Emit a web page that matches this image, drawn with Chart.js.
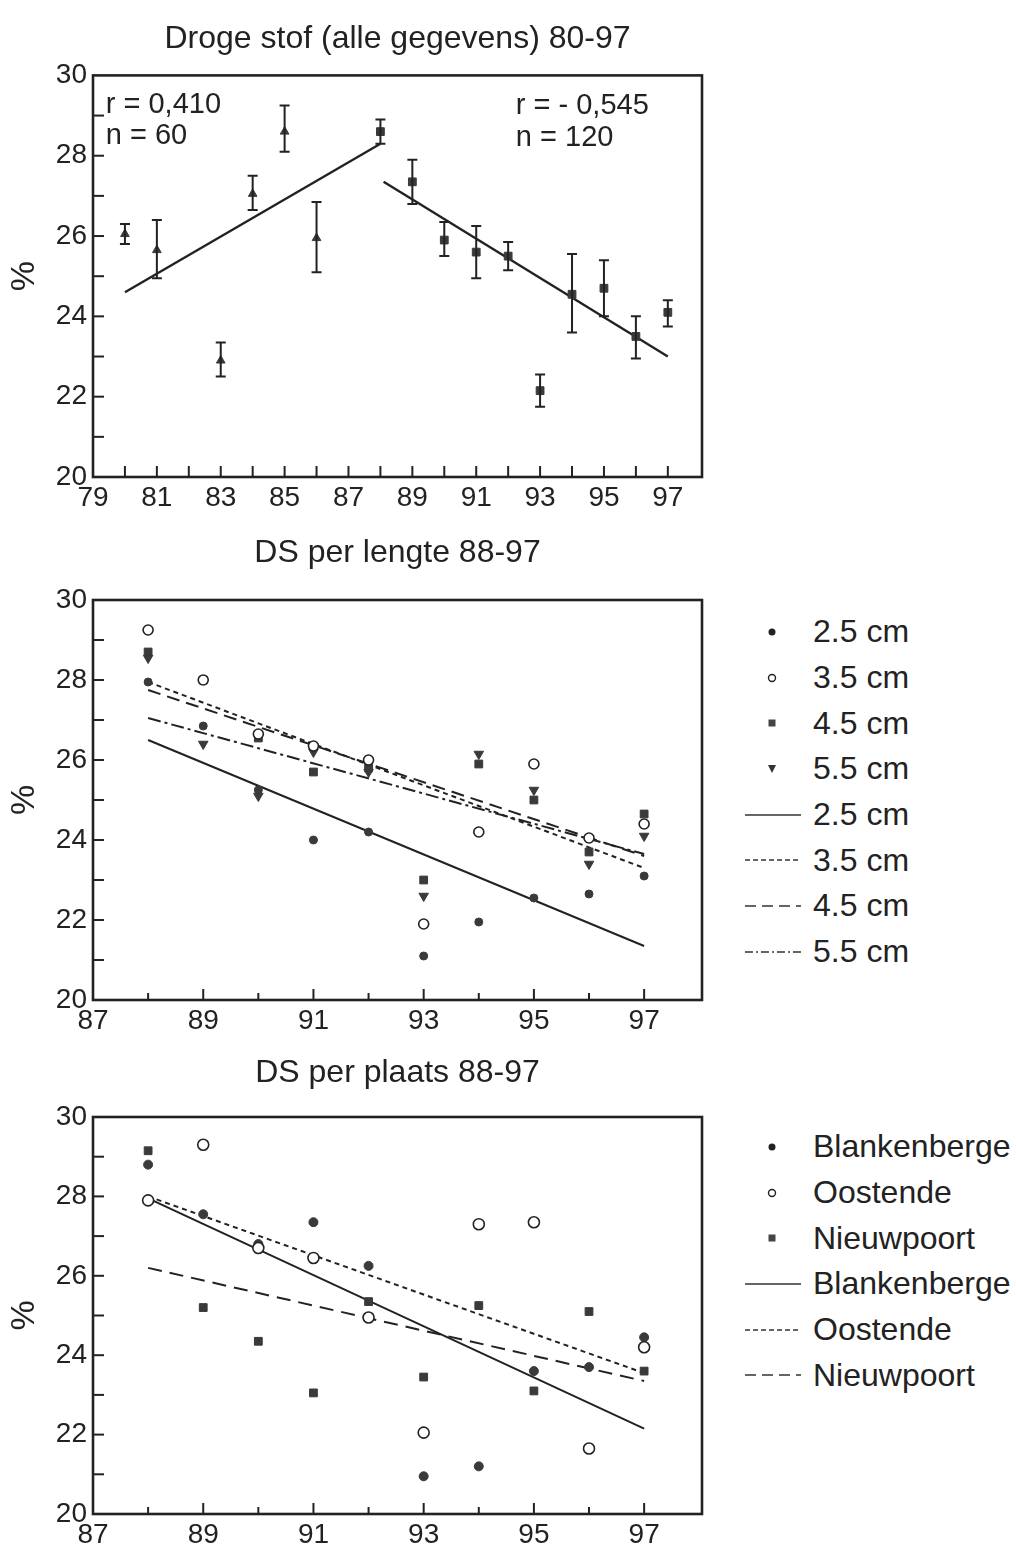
<!DOCTYPE html>
<html>
<head>
<meta charset="utf-8">
<script src="https://cdn.jsdelivr.net/npm/chart.js@4.4.1/dist/chart.umd.min.js"></script>
<style>
  body { margin: 0; background: #fff; width: 1016px; height: 1562px; position: relative; overflow: hidden;
         font-family: "Liberation Sans", Arial, sans-serif; color: #222; }
  canvas { position: absolute; left: 0; }
  .legend { position: absolute; left: 745px; font-size: 32px; }
  .legend div { display: flex; align-items: center; height: 45.7px; white-space: nowrap; }
  .legend svg { margin-right: 12px; flex: none; }
</style>
</head>
<body>
<canvas id="c1" width="720" height="525" style="top:0"></canvas>
<canvas id="c2" width="720" height="528" style="top:520px"></canvas>
<canvas id="c3" width="720" height="522" style="top:1040px"></canvas>
<div class="legend" id="lg2" style="top:609px"></div>
<div class="legend" id="lg3" style="top:1124px"></div>
<script>
// --- chart 1: droge stof 80-97, gemiddelde met foutbalken
const triYears = [80, 81, 83, 84, 85, 86];
const triVals  = [26.05, 25.65, 22.9, 27.05, 28.6, 25.95];
const triLo    = [25.8, 24.95, 22.5, 26.65, 28.1, 25.1];
const triHi    = [26.3, 26.4, 23.35, 27.5, 29.25, 26.85];
const sqYears  = [88, 89, 90, 91, 92, 93, 94, 95, 96, 97];
const sqVals   = [28.6, 27.35, 25.9, 25.6, 25.5, 22.15, 24.55, 24.7, 23.5, 24.1];
const sqLo     = [28.3, 26.8, 25.5, 24.95, 25.15, 21.75, 23.6, 24.0, 22.95, 23.75];
const sqHi     = [28.9, 27.9, 26.35, 26.25, 25.85, 22.55, 25.55, 25.4, 24.0, 24.4];
const fitLeftX  = [80, 88];
const fitLeftY  = [24.6, 28.3];
const fitRightX = [88.1, 97];
const fitRightY = [27.35, 23.0];

// --- chart 2: per lengte 88-97
const years = [88, 89, 90, 91, 92, 93, 94, 95, 96, 97];
const lengthNames = ['2.5 cm', '3.5 cm', '4.5 cm', '5.5 cm'];
const len25 = [27.95, 26.85, 25.25, 24.0, 24.2, 21.1, 21.95, 22.55, 22.65, 23.1];
const len35 = [29.25, 28.0, 26.65, 26.35, 26.0, 21.9, 24.2, 25.9, 24.05, 24.4];
const len45 = [28.7, 28.0, 26.55, 25.7, 25.8, 23.0, 25.9, 25.0, 23.7, 24.65];
const len55 = [28.55, 26.4, 25.1, 26.2, 25.7, 22.6, 26.15, 25.25, 23.4, 24.1];
const fitX  = [88, 97];
const fit25 = [26.5, 21.35];
const fit35 = [27.95, 23.3];
const fit45 = [27.75, 23.6];
const fit55 = [27.05, 23.65];

// --- chart 3: per plaats 88-97
const placeNames = ['Blankenberge', 'Oostende', 'Nieuwpoort'];
const plBlank = [28.8, 27.55, 26.8, 27.35, 26.25, 20.95, 21.2, 23.6, 23.7, 24.45];
const plOost  = [27.9, 29.3, 26.7, 26.45, 24.95, 22.05, 27.3, 27.35, 21.65, 24.2];
const plNieuw = [29.15, 25.2, 24.35, 23.05, 25.35, 23.45, 25.25, 23.1, 25.1, 23.6];
const fitBlank = [27.95, 22.15];
const fitOost  = [28.0, 23.55];
const fitNieuw = [26.2, 23.35];

const INK = '#222';
const FILL = '#3a3a3a';
Chart.defaults.font.family = '"Liberation Sans", Arial, sans-serif';
Chart.defaults.color = INK;

const pts = (xs, ys) => xs.map((x, i) => ({ x: x, y: ys[i] }));

// kader + naar binnen gerichte streepjes
const frame = {
  id: 'frame',
  afterDraw(chart, args, opts) {
    const { ctx, chartArea: a, scales: { x, y } } = chart;
    ctx.save();
    ctx.strokeStyle = INK;
    ctx.lineWidth = 2;
    x.ticks.forEach(t => {
      const v = t.value;
      if (!Number.isInteger(v) || v <= x.min || v >= x.max) return;
      const len = (opts.xMinor && v % 2 === 0) ? opts.xMinor : 11;
      const px = x.getPixelForValue(v);
      ctx.beginPath(); ctx.moveTo(px, a.bottom); ctx.lineTo(px, a.bottom - len); ctx.stroke();
    });
    y.ticks.forEach(t => {
      const v = t.value;
      if (!Number.isInteger(v) || v <= y.min || v >= y.max) return;
      const py = y.getPixelForValue(v);
      ctx.beginPath(); ctx.moveTo(a.left, py); ctx.lineTo(a.left + 11, py); ctx.stroke();
    });
    ctx.lineWidth = 2.6;
    ctx.strokeRect(a.left, a.top, a.width, a.height);
    ctx.restore();
  }
};

const errorBars = {
  id: 'errorBars',
  afterDatasetsDraw(chart) {
    const { ctx, scales: { y } } = chart;
    ctx.save();
    ctx.strokeStyle = INK;
    ctx.lineWidth = 2;
    chart.data.datasets.forEach((ds, i) => {
      if (!ds.errLo) return;
      chart.getDatasetMeta(i).data.forEach((p, j) => {
        const lo = y.getPixelForValue(ds.errLo[j]);
        const hi = y.getPixelForValue(ds.errHi[j]);
        ctx.beginPath();
        ctx.moveTo(p.x, lo); ctx.lineTo(p.x, hi);
        ctx.moveTo(p.x - 5, lo); ctx.lineTo(p.x + 5, lo);
        ctx.moveTo(p.x - 5, hi); ctx.lineTo(p.x + 5, hi);
        ctx.stroke();
      });
    });
    ctx.restore();
  }
};

const notes = {
  id: 'notes',
  afterDraw(chart, args, opts) {
    if (!opts.items) return;
    const { ctx, scales: { x, y } } = chart;
    ctx.save();
    ctx.font = '29px "Liberation Sans", Arial, sans-serif';
    ctx.fillStyle = INK;
    ctx.textBaseline = 'middle';
    opts.items.forEach(it => ctx.fillText(it.text, x.getPixelForValue(it.x), y.getPixelForValue(it.y)));
    ctx.restore();
  }
};

function options(title, titlePad, xMin, xMax, extra) {
  return {
    responsive: false,
    animation: false,
    layout: { padding: { right: 18 } },
    plugins: Object.assign({
      legend: { display: false },
      tooltip: { enabled: false },
      title: { display: true, text: title, fullSize: false, color: INK,
               font: { size: 32, weight: 'normal' }, padding: titlePad }
    }, extra),
    scales: {
      x: {
        type: 'linear', min: xMin, max: xMax,
        grid: { display: false, drawTicks: false }, border: { display: false },
        ticks: { stepSize: 1, autoSkip: false, maxRotation: 0, padding: 4, font: { size: 28 },
                 callback: v => (Number.isInteger(v) && v % 2 !== 0) ? String(v) : '' },
        afterFit: s => { s.height = 48; }
      },
      y: {
        min: 20, max: 30,
        grid: { display: false, drawTicks: false }, border: { display: false },
        title: { display: true, text: '%', font: { size: 34 }, padding: { top: 4, bottom: 0 } },
        ticks: { stepSize: 1, autoSkip: false, padding: 6, font: { size: 28 },
                 callback: v => (Number.isInteger(v) && v % 2 === 0) ? String(v) : '' },
        afterFit: s => { s.width = 93; }
      }
    }
  };
}

function fitLine(xs, ys, dash, width) {
  return { data: pts(xs, ys), showLine: true, pointRadius: 0, borderColor: INK,
           borderWidth: width || 2, borderDash: dash || [], fill: false };
}

new Chart(document.getElementById('c1'), {
  type: 'scatter',
  data: {
    datasets: [
      { data: pts(triYears, triVals), errLo: triLo, errHi: triHi, pointStyle: 'triangle',
        pointRadius: 5, backgroundColor: FILL, borderColor: FILL },
      { data: pts(sqYears, sqVals), errLo: sqLo, errHi: sqHi, pointStyle: 'rect',
        pointRadius: 5.5, backgroundColor: FILL, borderColor: FILL },
      fitLine(fitLeftX, fitLeftY, [], 2.4),
      fitLine(fitRightX, fitRightY, [], 2.4)
    ]
  },
  options: options('Droge stof (alle gegevens) 80-97', { top: 20, bottom: 17 }, 79, 98.07, {
    notes: { items: [
      { text: 'r = 0,410', x: 79.4, y: 29.27 },
      { text: 'n = 60', x: 79.4, y: 28.5 },
      { text: 'r = - 0,545', x: 92.24, y: 29.25 },
      { text: 'n = 120', x: 92.24, y: 28.45 }
    ] }
  }),
  plugins: [errorBars, frame, notes]
});

// symbolen per reeks (stijl, geen data)
const lengthMarks = [
  { pointStyle: 'circle', pointRadius: 4, backgroundColor: FILL, borderColor: FILL, order: 1 },
  { pointStyle: 'circle', pointRadius: 5, backgroundColor: '#fff', borderColor: INK, borderWidth: 1.6, order: 0 },
  { pointStyle: 'rect', pointRadius: 5.5, backgroundColor: FILL, borderColor: FILL, order: 3 },
  { pointStyle: 'triangle', pointRadius: 5.5, rotation: 180, backgroundColor: FILL, borderColor: FILL, order: 2 }
];
const lengthDash = [[], [5, 4], [13, 7], [13, 4, 3, 4]];
const lenVals = [len25, len35, len45, len55];
const lenFits = [fit25, fit35, fit45, fit55];

new Chart(document.getElementById('c2'), {
  type: 'scatter',
  data: {
    datasets: lenVals.map((v, i) => Object.assign({ label: lengthNames[i], data: pts(years, v) }, lengthMarks[i]))
      .concat(lenFits.map((f, i) => Object.assign(fitLine(fitX, f, lengthDash[i], 2), { label: lengthNames[i], order: 5 })))
  },
  options: options('DS per lengte 88-97', { top: 14, bottom: 27.6 }, 87, 98.05, { frame: { xMinor: 7 } }),
  plugins: [frame]
});

const placeMarks = [
  { pointStyle: 'circle', pointRadius: 4.5, backgroundColor: FILL, borderColor: FILL, order: 1 },
  { pointStyle: 'circle', pointRadius: 5.5, backgroundColor: '#fff', borderColor: INK, borderWidth: 1.6, order: 0 },
  { pointStyle: 'rect', pointRadius: 5.5, backgroundColor: FILL, borderColor: FILL, order: 2 }
];
const placeDash = [[], [5, 4], [14, 8]];
const plVals = [plBlank, plOost, plNieuw];
const plFits = [fitBlank, fitOost, fitNieuw];

new Chart(document.getElementById('c3'), {
  type: 'scatter',
  data: {
    datasets: plVals.map((v, i) => Object.assign({ label: placeNames[i], data: pts(years, v) }, placeMarks[i]))
      .concat(plFits.map((f, i) => Object.assign(fitLine(fitX, f, placeDash[i], 2), { label: placeNames[i], order: 5 })))
  },
  options: options('DS per plaats 88-97', { top: 14, bottom: 24.6 }, 87, 98.05, { frame: { xMinor: 7 } }),
  plugins: [frame]
});

// HTML-legende: eerst de symbolen, dan de lijnen
function symbol(m, dash) {
  let s = '';
  if (dash) {
    s = '<line x1="0" y1="15" x2="56" y2="15" stroke="#333" stroke-width="1.6" stroke-dasharray="' + dash.join(' ') + '"/>';
  } else if (m.pointStyle === 'circle' && m.backgroundColor === '#fff') {
    s = '<circle cx="27" cy="15" r="3.5" fill="#fff" stroke="#222" stroke-width="1.4"/>';
  } else if (m.pointStyle === 'circle') {
    s = '<circle cx="27" cy="15" r="3.5" fill="#222"/>';
  } else if (m.pointStyle === 'rect') {
    s = '<rect x="23.5" y="11.5" width="7" height="7" fill="#444"/>';
  } else {
    s = '<polygon points="23,11 31,11 27,19" fill="#333"/>';
  }
  return '<svg width="56" height="30">' + s + '</svg>';
}
function legend(id, names, marks, dashes) {
  let html = '';
  names.forEach((n, i) => { html += '<div>' + symbol(marks[i]) + '<span>' + n + '</span></div>'; });
  names.forEach((n, i) => {
    const d = dashes[i].length ? dashes[i] : [100];
    html += '<div>' + symbol(marks[i], d) + '<span>' + n + '</span></div>';
  });
  document.getElementById(id).innerHTML = html;
}
legend('lg2', lengthNames, lengthMarks, [[], [5, 3], [11, 6], [8, 3, 2, 3]]);
legend('lg3', placeNames, placeMarks, [[], [5, 3], [11, 6]]);
</script>
</body>
</html>
